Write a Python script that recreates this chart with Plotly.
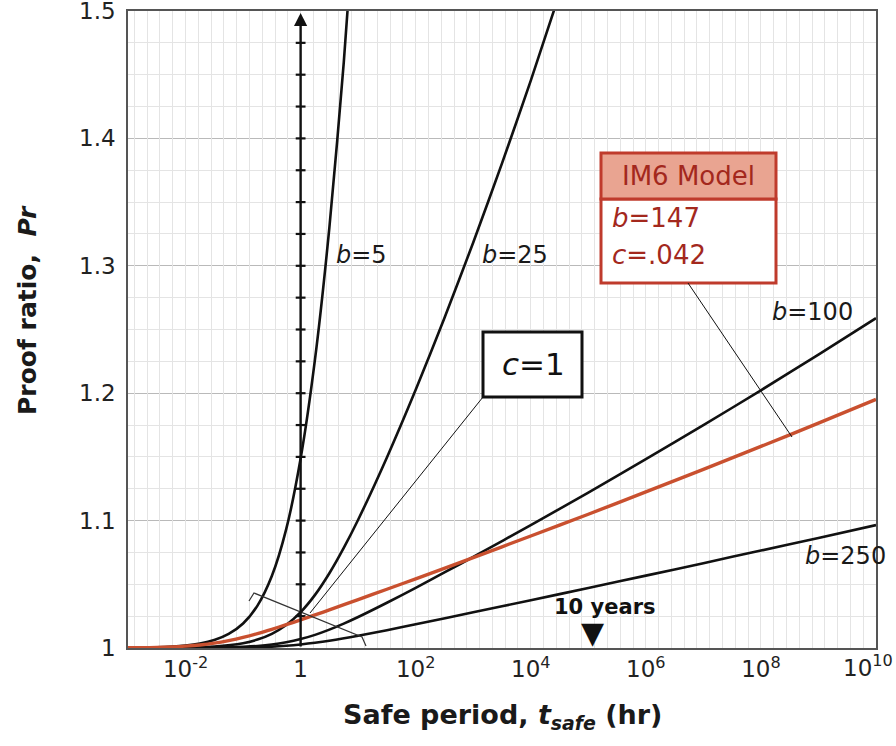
import plotly.graph_objects as go

# Safe-period curves, Pr vs t_safe (hr), read per curve
T_B5 = [0.001, 0.00316, 0.01, 0.0178, 0.0316, 0.0562, 0.1, 0.178, 0.316, 0.562,
        1, 1.78, 3.16, 5.62, 10]
PR_B5 = [1.0002, 1.0006, 1.0020, 1.0035, 1.0062, 1.0110, 1.0192, 1.0333, 1.0565, 1.0933,
         1.1487, 1.2267, 1.3300, 1.4595, 1.6154]

T_B25 = [0.001, 0.01, 0.0316, 0.1, 0.178, 0.316, 0.562, 1, 1.78, 3.16, 5.62, 10,
         31.6, 100, 316, 1000, 3160, 1e4, 3.16e4]
PR_B25 = [1.0000, 1.0004, 1.0012, 1.0038, 1.0066, 1.0111, 1.0180, 1.0281, 1.0417, 1.0587,
          1.0786, 1.1007, 1.1496, 1.2027, 1.2591, 1.3183, 1.3804, 1.4454, 1.5136]

T_B100 = [0.001, 0.01, 0.0316, 0.1, 0.178, 0.316, 0.562, 1, 1.78, 3.16, 5.62, 10,
          31.6, 100, 316, 1000, 1e4, 1e5, 1e6, 1e7, 1e8, 1e9, 1e10]
PR_B100 = [1.0000, 1.0001, 1.0003, 1.0010, 1.0016, 1.0027, 1.0045, 1.0070, 1.0103, 1.0144,
           1.0191, 1.0243, 1.0355, 1.0472, 1.0593, 1.0715, 1.0965, 1.1220, 1.1482, 1.1749,
           1.2023, 1.2303, 1.2589]

T_B250 = [0.001, 0.01, 0.1, 0.316, 0.562, 1, 1.78, 3.16, 10, 31.6, 100, 1000,
          1e4, 1e5, 1e6, 1e7, 1e8, 1e9, 1e10]
PR_B250 = [1.0000, 1.0000, 1.0004, 1.0011, 1.0018, 1.0028, 1.0041, 1.0057, 1.0096, 1.0140,
           1.0186, 1.0280, 1.0375, 1.0471, 1.0568, 1.0666, 1.0765, 1.0864, 1.0965]

# IM6 model fit: b=147, c=.042
T_IM6 = [0.001, 0.00316, 0.00562, 0.01, 0.0178, 0.0316, 0.0562, 0.1, 0.178, 0.316,
         0.562, 1, 1.78, 3.16, 10, 31.6, 100, 1000, 1e4, 1e5, 1e6, 1e7, 1e8, 1e9, 1e10]
PR_IM6 = [1.0002, 1.0005, 1.0009, 1.0015, 1.0024, 1.0038, 1.0058, 1.0083, 1.0113, 1.0147,
          1.0183, 1.0221, 1.0260, 1.0299, 1.0380, 1.0461, 1.0543, 1.0710, 1.0879, 1.1050,
          1.1225, 1.1402, 1.1582, 1.1765, 1.1951]

TEN_YEARS_T = 1.2e5

# the last decade label is placed separately so it stays inside the page
X_TICKS = [1e-2, 1, 1e2, 1e4, 1e6, 1e8, 1e10]
X_TICK_TEXT = ["10<sup>-2</sup>", "1", "10<sup>2</sup>", "10<sup>4</sup>",
               "10<sup>6</sup>", "10<sup>8</sup>", ""]
X_LAST_LABEL = "10<sup>10</sup>"
Y_TICKS = [1.0, 1.1, 1.2, 1.3, 1.4, 1.5]
Y_TICK_TEXT = ["1", "1.1", "1.2", "1.3", "1.4", "1.5"]

FONT = "DejaVu Sans"
BLACK = "#111111"
RED_LINE = "#c9502f"
RED_BOX = "#bf3b2c"
RED_FILL = "#e9a491"
RED_TEXT = "#a3281d"
LOG_MIN, LOG_MAX = -3, 10

fig = go.Figure()

# helper axis in decades, used only for the fine vertical grid (every 2/9 decade)
fig.add_trace(go.Scatter(x=[LOG_MIN, LOG_MAX], y=[1, 1], xaxis="x2", mode="lines",
                         line=dict(width=0), hoverinfo="skip", showlegend=False))

# vertical marker line at t = 1 hr with small ticks
arrow_ticks = [1 + 0.025 * k for k in range(1, 20)]
fig.add_trace(go.Scatter(
    x=[1] * len(arrow_ticks), y=arrow_ticks, mode="markers",
    marker=dict(symbol="line-ew", size=7, line=dict(width=2.2, color=BLACK)),
    hoverinfo="skip", showlegend=False))

for t, pr in [(T_B5, PR_B5), (T_B25, PR_B25), (T_B100, PR_B100), (T_B250, PR_B250)]:
    fig.add_trace(go.Scatter(
        x=t, y=pr, mode="lines",
        line=dict(color=BLACK, width=2.6, shape="spline", smoothing=0.8),
        showlegend=False))

fig.add_trace(go.Scatter(
    x=T_IM6, y=PR_IM6, mode="lines",
    line=dict(color=RED_LINE, width=3.4, shape="spline", smoothing=0.8),
    showlegend=False))


def px(xp):
    return (xp - 128) / 748


def py(yp):
    return (648 - yp) / 637


shapes = [
    # c=1 box
    dict(type="rect", xref="paper", yref="paper", x0=px(483), x1=px(582), y0=py(397), y1=py(332),
         fillcolor="white", line=dict(color=BLACK, width=3)),
    # IM6 model box: body and header
    dict(type="rect", xref="paper", yref="paper", x0=px(601), x1=px(776), y0=py(283), y1=py(199),
         fillcolor="white", line=dict(color=RED_BOX, width=3)),
    dict(type="rect", xref="paper", yref="paper", x0=px(601), x1=px(776), y0=py(199), y1=py(153),
         fillcolor=RED_FILL, line=dict(color=RED_BOX, width=3)),
    # leader lines
    dict(type="line", xref="paper", yref="paper", x0=px(483), y0=py(397), x1=px(310), y1=py(613),
         line=dict(color=BLACK, width=1)),
    dict(type="line", xref="paper", yref="paper", x0=px(688), y0=py(283), x1=px(792), y1=py(437),
         line=dict(color=BLACK, width=1)),
    # bracket across the c=1 curves
    dict(type="path", xref="paper", yref="paper",
         path=f"M {px(249)} {py(601)} L {px(254)} {py(593)} L {px(362)} {py(637)} L {px(366)} {py(646)}",
         line=dict(color="#333333", width=1.2)),
]


def note(x, y, text, font, xanchor="center", ref="data", yanchor="middle", **kw):
    r = ("x", "y") if ref == "data" else ("paper", "paper")
    return dict(x=x, y=y, xref=r[0], yref=r[1], text=text, showarrow=False,
                xanchor=xanchor, yanchor=yanchor, font=font, **kw)


TICK_FONT = dict(family=FONT, size=23, color="#222222")
LBL = dict(family=FONT, size=24, color="#1a1a1a")
BOX = dict(family=FONT, size=26, color=RED_TEXT)
annotations = [
    # arrow along t = 1 hr
    dict(x=0, y=1.4985, ax=0, ay=1.0, xref="x", yref="y", axref="x", ayref="y",
         text="", showarrow=True, arrowhead=2, arrowsize=1.1, arrowwidth=2.4, arrowcolor=BLACK),
    note(0.573, 1.3087, "<i>b</i>=5", LBL, "left"),
    note(3.125, 1.3087, "<i>b</i>=25", LBL, "left"),
    note(8.16, 1.2639, "<i>b</i>=100", LBL, "left"),
    note(8.73, 1.0723, "<i>b</i>=250", LBL, "left"),
    note(px(533), py(364), "<i>c</i>=1", dict(family=FONT, size=31, color=BLACK), ref="paper"),
    note(px(688), py(176), "IM6 Model", BOX, ref="paper"),
    note(px(610), py(218), "<i>b</i>=147", BOX, "left", ref="paper"),
    note(px(610), py(255), "<i>c</i>=.042", BOX, "left", ref="paper"),
    note(5.295, 1.0322, "<b>10 years</b>", dict(family=FONT, size=21, color=BLACK)),
    dict(x=5.08, y=1.0, xref="x", yref="y", text="▼", showarrow=False,
         xanchor="center", yanchor="bottom",
         font=dict(family=FONT, size=30, color=BLACK), yshift=-4),
    # last x tick label
    note(px(894), py(650), X_LAST_LABEL, TICK_FONT, "right", ref="paper", yanchor="top",
         borderpad=0),
    # axis titles
    note(0.5, py(716), "<b>Safe period, <i>t<sub>safe</sub></i> (hr)</b>",
         dict(family=FONT, size=27, color="#1a1a1a"), ref="paper"),
    note(px(27), py(310), "<b>Proof ratio,\u00a0 <i>Pr</i></b>",
         dict(family=FONT, size=25, color="#1a1a1a"), ref="paper", textangle=-90),
]

fig.update_layout(
    width=896, height=746,
    margin=dict(l=128, r=20, t=11, b=98, autoexpand=False),
    paper_bgcolor="white", plot_bgcolor="white",
    shapes=shapes, annotations=annotations,
    showlegend=False,
    xaxis=dict(
        type="log", range=[LOG_MIN, LOG_MAX + 1e-6],
        tickmode="array", tickvals=X_TICKS, ticktext=X_TICK_TEXT,
        tickfont=TICK_FONT,
        showgrid=True, gridcolor="#b9b9b9", gridwidth=1,
        showline=True, linecolor="#555555", linewidth=1.5, mirror=True,
        ticks="", zeroline=False, automargin=False, ticklabeloverflow="allow",
    ),
    xaxis2=dict(
        overlaying="x", range=[LOG_MIN, LOG_MAX + 1e-6],
        tickmode="linear", tick0=0, dtick=2 / 9,
        showgrid=True, gridcolor="#e4e4e4", gridwidth=1,
        showticklabels=False, ticks="", zeroline=False, showline=False,
        automargin=False, layer="below traces",
    ),
    yaxis=dict(
        range=[1, 1.5],
        tickmode="array", tickvals=Y_TICKS, ticktext=Y_TICK_TEXT,
        tickfont=TICK_FONT,
        showgrid=True, gridcolor="#b9b9b9", gridwidth=1,
        minor=dict(tickmode="linear", tick0=1, dtick=0.025, showgrid=True,
                   gridcolor="#e4e4e4", gridwidth=1, ticks=""),
        showline=True, linecolor="#555555", linewidth=1.5, mirror=True,
        ticks="", zeroline=False, ticklabelstandoff=6, automargin=False,
        ticklabeloverflow="allow",
    ),
)

fig.write_html("out.html")
